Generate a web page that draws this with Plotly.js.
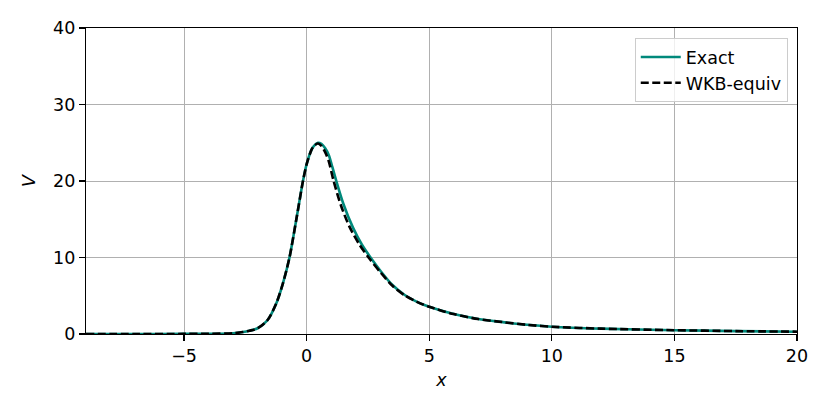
<!DOCTYPE html>
<html>
<head>
<meta charset="utf-8">
<script src="https://cdn.plot.ly/plotly-3.0.1.min.js"></script>
<style>
  body { margin: 0; background: #fff; }
  #grafico { width: 830px; height: 415px; }
</style>
</head>
<body>
<div id="grafico"></div>
<script>
'use strict';

// Potencial exacto
let xExacto = [-9, -7, -5, -4, -3, -2.6, -2.33, -2.0, -1.6, -1.24, -0.97, -0.7, -0.42, -0.15, 0.0, 0.2, 0.3, 0.46,
    0.6, 0.75, 0.9, 1.05, 1.21, 1.5, 1.89, 2.25, 2.65, 3.0, 3.5, 4.0, 4.5, 5, 6, 7, 8, 9, 10, 12, 15, 17.5, 20];
let vExacto = [0, 0, 0.01, 0.03, 0.1, 0.25, 0.43, 0.75, 1.8, 4.0, 6.6, 10, 15, 20, 22.2, 24.1, 24.6, 25.0,
    24.85, 24.3, 23.4, 21.8, 20.0, 17.0, 13.9, 11.7, 9.8, 8.3, 6.4, 5.1, 4.2, 3.55, 2.6, 1.95, 1.55, 1.2, 0.95, 0.7, 0.5, 0.38, 0.3];

// Equivalente WKB
let xWkb = [-9, -7, -5, -4, -3, -2.6, -2.33, -2.0, -1.6, -1.24, -0.97, -0.7, -0.42, -0.15, 0.0, 0.2, 0.3, 0.46,
    0.6, 0.75, 0.9, 1.1, 1.4, 1.75, 2.15, 2.55, 3.0, 3.5, 4.0, 4.5, 5, 6, 7, 8, 9, 10, 12, 15, 17.5, 20];
let vWkb = [0, 0, 0.01, 0.03, 0.1, 0.25, 0.43, 0.75, 1.8, 4.0, 6.6, 10, 15, 20, 22.2, 24.1, 24.6, 24.9,
    24.6, 23.8, 22.6, 20.0, 16.8, 14.0, 11.7, 9.9, 8.1, 6.3, 5.05, 4.2, 3.55, 2.6, 1.95, 1.55, 1.2, 0.95, 0.7, 0.5, 0.38, 0.3];

let ticksX = [-5, 0, 5, 10, 15, 20];
let ticksY = [0, 10, 20, 30, 40];

let fuente = 'DejaVu Sans, sans-serif';

let trazas = [
    {
        type: 'scatter',
        mode: 'lines',
        name: 'Exact',
        x: xExacto,
        y: vExacto,
        line: { color: '#00897b', width: 2.6, shape: 'spline', smoothing: 0.8 }
    },
    {
        type: 'scatter',
        mode: 'lines',
        name: 'WKB-equiv',
        x: xWkb,
        y: vWkb,
        line: { color: '#000000', width: 2.6, dash: '8px,3.5px', shape: 'spline', smoothing: 0.8 }
    }
];

let ejeComun = {
    showgrid: true,
    gridcolor: '#b0b0b0',
    gridwidth: 1,
    zeroline: false,
    showline: true,
    linecolor: '#000000',
    linewidth: 1.2,
    mirror: true,
    ticks: 'outside',
    ticklen: 6,
    tickwidth: 1.2,
    tickcolor: '#000000',
    tickfont: { family: fuente, size: 17.5, color: '#000000' }
};

let layout = {
    width: 830,
    height: 415,
    margin: { l: 86, r: 33, t: 28, b: 81 },
    paper_bgcolor: '#ffffff',
    plot_bgcolor: '#ffffff',
    font: { family: fuente, size: 17.5, color: '#000000' },
    xaxis: Object.assign({}, ejeComun, {
        range: [-9, 20],
        tickvals: ticksX,
        title: { text: '<i>x</i>', font: { family: fuente, size: 17.5 }, standoff: 8 }
    }),
    yaxis: Object.assign({}, ejeComun, {
        range: [0, 40],
        tickvals: ticksY,
        title: { text: '<i>V</i>', font: { family: fuente, size: 17.5 }, standoff: 12 }
    }),
    legend: {
        x: 0.987,
        y: 0.967,
        xanchor: 'right',
        yanchor: 'top',
        bgcolor: 'rgba(255,255,255,0.8)',
        bordercolor: '#cccccc',
        borderwidth: 1,
        font: { family: fuente, size: 17.5 },
        itemwidth: 40,
        tracegroupgap: 2
    },
    showlegend: true
};

Plotly.newPlot('grafico', trazas, layout, { displayModeBar: false, staticPlot: true });
</script>
</body>
</html>
